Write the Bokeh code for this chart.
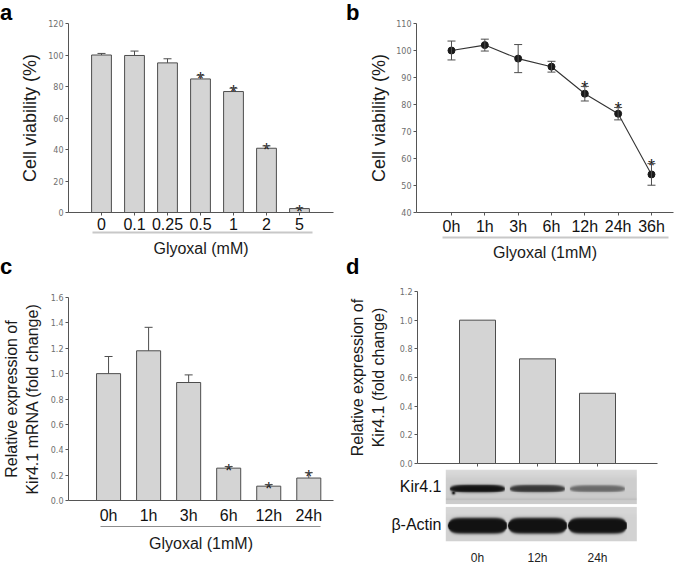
import numpy as np
from bokeh.plotting import figure
from bokeh.models import (Range1d, LinearAxis, FixedTicker, Whisker, TeeHead,
                          ColumnDataSource, Div)
from bokeh.layouts import row, column
from bokeh.embed import file_html
from bokeh.resources import INLINE
from bokeh.core.properties import value

# ---------------- data ----------------
# panel a
a_conc = ["0", "0.1", "0.25", "0.5", "1", "2", "5"]
a_viab = [100.0, 99.7, 95.0, 84.8, 76.8, 40.8, 2.5]
a_err = [1.0, 2.8, 2.6, 2.3, 2.1, 1.5, 0.3]
a_sig = ["", "", "", "*", "*", "*", "*"]

# panel b
b_time = ["0h", "1h", "3h", "6h", "12h", "24h", "36h"]
b_viab = [100.0, 102.0, 97.0, 94.0, 84.0, 76.6, 54.1]
b_err = [3.5, 2.2, 5.2, 2.0, 2.7, 2.3, 4.0]
b_sig = ["", "", "", "", "*", "*", "*"]

# panel c
c_time = ["0h", "1h", "3h", "6h", "12h", "24h"]
c_expr = [1.0, 1.18, 0.93, 0.255, 0.113, 0.177]
c_err = [0.135, 0.185, 0.06, 0.012, 0.012, 0.042]
c_sig = ["", "", "", "*", "*", "*"]

# panel d
d_time = ["0h", "12h", "24h"]
d_expr = [1.0, 0.73, 0.49]
kir_band = [1.0, 0.85, 0.62]     # band density read from the blot
actin_band = [1.0, 1.0, 1.0]

a_ticks = [0, 20, 40, 60, 80, 100, 120]
b_ticks = [40, 50, 60, 70, 80, 90, 100, 110]
c_ticks = [0.0, 0.2, 0.4, 0.6, 0.8, 1.0, 1.2, 1.4, 1.6]
d_ticks = [0.0, 0.2, 0.4, 0.6, 0.8, 1.0, 1.2]

# ---------------- style ----------------
FONT = "Liberation Sans"
TICKFONT = "DejaVu Sans"
BAR_FILL = "#d4d4d4"
EDGE = "#4d4d4d"
AXIS = "#555555"


def make_fig(w, h, l, r, t, b, xr, yr):
    p = figure(width=w, height=h, x_range=Range1d(*xr), y_range=Range1d(*yr),
               output_backend="svg", toolbar_location=None,
               min_border_left=l, min_border_right=r,
               min_border_top=t, min_border_bottom=b)
    p.grid.visible = False
    p.outline_line_color = None
    return p


def letter_div(w, h, letters, lefts, tops):
    # narrow strip holding the bold panel letters
    spans = "".join(
        f'<span style="position:absolute;left:{x}px;top:{t}px;'
        f'line-height:22px;">{s}</span>'
        for s, x, t in zip(letters, lefts, tops))
    html = (f'<div style="position:relative;width:{w}px;height:{h}px;'
            f"font-family:'Liberation Sans';font-weight:bold;font-size:22px;"
            f'color:#000000;">{spans}</div>')
    return Div(text=html, width=w, height=h, margin=0)


def style_y(ax, ticks, label, size, standoff, fmt=None):
    ax.ticker = FixedTicker(ticks=ticks)
    if fmt:
        ax.major_label_overrides = {t: fmt.format(t) for t in ticks}
    ax.axis_line_color = AXIS
    ax.major_tick_line_color = AXIS
    ax.major_tick_out = 3
    ax.major_tick_in = 0
    ax.minor_tick_line_color = None
    ax.major_label_text_font = TICKFONT
    ax.major_label_text_font_size = "8px"
    ax.major_label_text_color = "#6e6e6e"
    ax.major_label_standoff = 2
    ax.axis_label = label
    ax.axis_label_text_font = FONT
    ax.axis_label_text_font_size = size
    ax.axis_label_text_font_style = "normal"
    ax.axis_label_text_color = "#1a1a1a"
    ax.axis_label_standoff = standoff


def style_x(ax, labels, tick_out, standoff, size="16px"):
    n = len(labels)
    ax.ticker = FixedTicker(ticks=list(range(1, n + 1)))
    ax.major_label_overrides = {i + 1: s for i, s in enumerate(labels)}
    ax.axis_line_color = AXIS
    ax.major_tick_line_color = AXIS if tick_out > 0 else None
    ax.major_tick_out = tick_out
    ax.major_tick_in = 0
    ax.minor_tick_line_color = None
    ax.major_label_text_font = FONT
    ax.major_label_text_font_size = size
    ax.major_label_text_color = "#111111"
    ax.major_label_standoff = standoff


def under_axis(p, label, bounds, color, width, standoff):
    ax = LinearAxis(ticker=FixedTicker(ticks=[]), bounds=bounds, axis_label=label)
    ax.major_tick_line_color = None
    ax.minor_tick_line_color = None
    ax.major_label_text_font_size = "0px"
    ax.major_label_standoff = 0
    ax.axis_label_standoff = standoff
    ax.axis_label_text_font = FONT
    ax.axis_label_text_font_style = "normal"
    ax.axis_label_text_color = "#1a1a1a"
    ax.axis_line_color = color
    ax.axis_line_width = width
    ax.axis_label_text_font_size = "16px"
    p.add_layout(ax, "below")


def bars_with_err(p, vals, errs, sig, width, yoff):
    xs = list(range(1, len(vals) + 1))
    upper = [v + e for v, e in zip(vals, errs)]
    src = ColumnDataSource(dict(x=xs, top=vals, upper=upper))
    p.vbar(x="x", top="top", width=width, source=src, fill_color=BAR_FILL,
           line_color=EDGE, line_width=1)
    p.add_layout(Whisker(source=src, base="x", upper="upper", lower="top",
                         line_color=EDGE, line_width=1, level="overlay",
                         upper_head=TeeHead(size=8, line_color=EDGE, line_width=1),
                         lower_head=None))
    keep = [i for i, s in enumerate(sig) if s]
    ssrc = ColumnDataSource(dict(x=[xs[i] for i in keep], y=[upper[i] for i in keep],
                                 t=[sig[i] for i in keep]))
    p.text(x="x", y="y", text="t", source=ssrc, text_align="center",
           text_baseline="alphabetic", text_font=value(FONT),
           text_font_size="18px", text_color="#1a1a1a", y_offset=yoff)


# ---------------- letters a / c ----------------
la = letter_div(14, 280, ["a", "c"], [0, 0], [2, 256])

# ---------------- panel a ----------------
# frame: x 68..333 (33 px per bar slot), y 22..212
pa = make_fig(332, 280, 54, 13, 22, 68, (0, 265 / 33), (0, 120))
style_y(pa.yaxis[0], a_ticks, "Cell viability (%)", "18px", 5)
style_x(pa.xaxis[0], a_conc, 3, 2)
under_axis(pa, "Glyoxal (mM)", (0.72, 7.4), "#c8c8c8", 2, 7)
bars_with_err(pa, a_viab, a_err, a_sig, 0.6, 4)

# ---------------- letters b / d ----------------
lb = letter_div(14, 280, ["b", "d"], [0, 0], [2, 256])

# ---------------- panel b ----------------
bx0 = -0.05
pb = make_fig(325, 280, 56, 12, 23, 67, (bx0, bx0 + 257 / 33.33), (40, 110))
style_y(pb.yaxis[0], b_ticks, "Cell viability (%)", "18px", 4)
style_x(pb.xaxis[0], b_time, 3, 2)
under_axis(pb, "Glyoxal (1mM)", (0.72, 7.52), "#c8c8c8", 2, 6)
bx = list(range(1, len(b_time) + 1))
bsrc = ColumnDataSource(dict(x=bx, y=b_viab,
                             lo=[v - e for v, e in zip(b_viab, b_err)],
                             hi=[v + e for v, e in zip(b_viab, b_err)]))
pb.add_layout(Whisker(source=bsrc, base="x", upper="hi", lower="lo",
                      line_color=EDGE, line_width=1, level="overlay",
                      upper_head=TeeHead(size=8, line_color=EDGE, line_width=1),
                      lower_head=TeeHead(size=8, line_color=EDGE, line_width=1)))
pb.line(x="x", y="y", source=bsrc, line_color="#333333", line_width=1.1)
pb.scatter(x="x", y="y", source=bsrc, size=7, color="#1a1a1a")
bkeep = [i for i, s in enumerate(b_sig) if s]
bssrc = ColumnDataSource(dict(x=[bx[i] for i in bkeep],
                              y=[b_viab[i] + b_err[i] for i in bkeep],
                              t=[b_sig[i] for i in bkeep]))
pb.text(x="x", y="y", text="t", source=bssrc, text_align="center",
        text_baseline="alphabetic", text_font=value(FONT),
        text_font_size="18px", text_color="#1a1a1a", y_offset=2)

# ---------------- panel c ----------------
pc = make_fig(346, 287, 67, 13, 17, 67, (0, 266 / 40.2), (0, 1.6))
style_y(pc.yaxis[0], c_ticks, "Relative expression of\nKir4.1 mRNA (fold change)",
        "16px", 7, "{:.1f}")
style_x(pc.xaxis[0], c_time, 0, 6)
under_axis(pc, "Glyoxal (1mM)", (0.81, 6.3), "#8c8c8c", 1, 8)
bars_with_err(pc, c_expr, c_err, c_sig, 0.6, 4)

# ---------------- panel d (bars) ----------------
# frame x 417..657 (60 px per lane), y 291..463
pd = make_fig(339, 189, 71, 28, 11, 6, (0, 4), (0, 1.2))
style_y(pd.yaxis[0], d_ticks, "Relative expression of\nKir4.1 (fold change)",
        "16px", 10, "{:.1f}")
dx = list(range(1, len(d_time) + 1))
pd.xaxis[0].ticker = FixedTicker(ticks=dx)
pd.xaxis[0].axis_line_color = AXIS
pd.xaxis[0].major_tick_line_color = AXIS
pd.xaxis[0].major_tick_out = 3
pd.xaxis[0].major_tick_in = 0
pd.xaxis[0].minor_tick_line_color = None
pd.xaxis[0].major_label_text_font_size = "1px"
pd.xaxis[0].major_label_text_color = None
pd.xaxis[0].major_label_standoff = 0
pd.vbar(x=dx, top=d_expr, width=0.6, fill_color=BAR_FILL, line_color=EDGE,
        line_width=1)

# ---------------- panel d (blot) : same frame as the bars ----------------
bl_x0 = (445 - 416.7) / 60
bl_dw = 191 / 60
pbl = make_fig(339, 98, 71, 28, 0, 16, (0, 4), (0, 2.0))
pbl.xaxis[0].ticker = FixedTicker(ticks=dx)
pbl.xaxis[0].major_label_overrides = {i + 1: s for i, s in enumerate(d_time)}
pbl.xaxis[0].axis_line_color = None
pbl.xaxis[0].major_tick_line_color = None
pbl.xaxis[0].minor_tick_line_color = None
pbl.xaxis[0].major_label_text_font = FONT
pbl.xaxis[0].major_label_text_font_size = "12px"
pbl.xaxis[0].major_label_text_color = "#222222"
pbl.xaxis[0].major_label_standoff = 3
pbl.yaxis[0].ticker = FixedTicker(ticks=[0.48, 1.52])
pbl.yaxis[0].major_label_overrides = {0.48: "β-Actin", 1.52: "Kir4.1"}
pbl.yaxis[0].axis_line_color = None
pbl.yaxis[0].major_tick_line_color = None
pbl.yaxis[0].minor_tick_line_color = None
pbl.yaxis[0].major_tick_out = 0
pbl.yaxis[0].major_label_text_font = FONT
pbl.yaxis[0].major_label_text_font_size = "16px"
pbl.yaxis[0].major_label_text_color = "#111111"
pbl.yaxis[0].major_label_standoff = -24   # labels end just left of the blot


def blot_image(rows, cols, strengths, half_w, half_h, band_row, bg_top, bg, taper,
               faint, spot=None):
    xs = bl_x0 + (np.arange(cols) + 0.5) * bl_dw / cols
    rs = np.arange(rows) + 0.5
    X, R = np.meshgrid(xs, rs)
    img = bg + (bg_top - bg) * np.clip(1 - R / (rows * 0.35), 0, 1)
    if faint:
        img = img - 14 * np.exp(-((R - rows * 0.86) / 1.5) ** 2)
    for i, s in enumerate(strengths):
        c = i + 1
        u = np.abs(X - c) / half_w
        hh = half_h * (0.55 + 0.45 * s) * np.sqrt(np.clip(1 - u ** taper, 0, 1))
        dens = s ** 1.3 / (1 + np.exp((np.abs(R - band_row) - hh) / 0.7))
        dens = dens * (hh > 0)
        img = img - (img - 18) * dens
    if spot is not None:
        sx, sr = spot
        d2 = ((X - sx) * 60) ** 2 + (R - sr) ** 2
        img = img - (img - 10) * np.exp(-d2 / 3.0)
    g = np.clip(img, 0, 255).astype(np.uint8)[::-1]
    out = np.empty(g.shape, dtype=np.uint32)
    v = out.view(dtype=np.uint8).reshape(g.shape + (4,))
    v[..., 0] = g
    v[..., 1] = g
    v[..., 2] = g
    v[..., 3] = 255
    return out


kir_img = blot_image(39, 191, kir_band, 0.46, 4.3, 22.0, 222, 205, 4, True,
                     spot=(0.6, 27.0))
act_img = blot_image(39, 191, actin_band, 0.49, 8.8, 21.5, 218, 210, 8, False)
pbl.image_rgba(image=[kir_img], x=bl_x0, y=1.04, dw=bl_dw, dh=0.96)
pbl.image_rgba(image=[act_img], x=bl_x0, y=0.0, dw=bl_dw, dh=0.96)

layout = column(row(la, pa, lb, pb), row(pc, column(pd, pbl)))

open("out.html", "w").write(file_html(layout, INLINE))
